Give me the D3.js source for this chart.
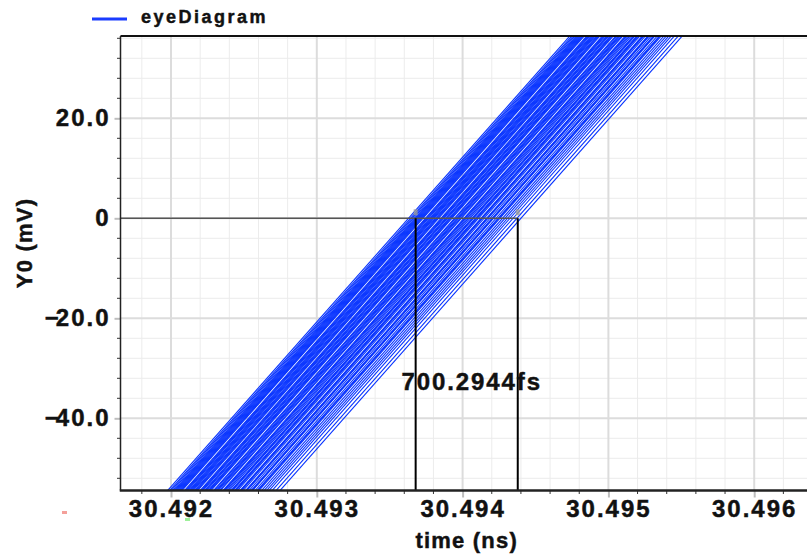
<!DOCTYPE html>
<html>
<head>
<meta charset="utf-8">
<script src="https://cdn.jsdelivr.net/npm/d3@7"></script>
<style>
  html, body { margin: 0; padding: 0; background: #ffffff; }
  svg { display: block; font-family: "Liberation Sans", Arial, Helvetica, sans-serif; }
  text { stroke: #111; stroke-width: 0.45px; paint-order: stroke; }
</style>
</head>
<body>
<svg id="chart" width="807" height="559"></svg>
<script>
// ---- data -------------------------------------------------------------
const seriesName = "eyeDiagram";

// 0 mV crossing of every overlaid rising edge, as offsets (fs) from crossingRef
const crossingRef = 30.4936; // ns
const crossingOffsetsFs = [
   29,  43,  53,  63,  73,
   80,  87,  94, 101, 108, 115, 121, 128, 145, 152, 159, 166,
  176, 183, 190, 197, 204, 214, 221, 228, 235, 252, 259, 265,
  272, 283, 289, 296, 307, 313, 320, 327, 344, 351, 361, 368,
  375, 385, 392, 409, 415, 420, 430, 440, 451,
  464, 470, 475, 488, 494, 499, 509, 526, 531, 536, 547, 564, 569,
  574, 588, 602, 607, 612, 629, 643, 648, 656,
  674, 691, 708, 725, 746, 773, 800
];
// edge slew rate shared by all traces (mV per ns)
const slewRate = 32950;
// voltage span each trace is drawn over (mV)
const traceVoltageSpan = [-60, 42];

const xMajorTicks = [30.492, 30.493, 30.494, 30.495, 30.496];
const xTickLabels = ["30.492", "30.493", "30.494", "30.495", "30.496"];
const yMajorTicks = [-40, -20, 0, 20];
const yTickLabels = ["\u221240.0", "\u221220.0", "0", "20.0"];

// delta-time marker between two 0 mV crossings
const markerStart = 30.493678;     // ns
const markerDeltaFs = 700.2944;    // fs
const markerLabel = "700.2944fs";
const markerLevel = 0;             // mV

const xTitle = "time (ns)";
const yTitle = "Y0 (mV)";

// ---- layout -----------------------------------------------------------
const W = 807, H = 559;
const plot = { left: 120.5, right: 807, top: 36, bottom: 490.5 };

const x = d3.scaleLinear().domain([30.492, 30.496]).range([171, 754.2]);
const y = d3.scaleLinear().domain([-40, 20]).range([418.3, 118.3]);

const xMinor = d3.range(30.4916, 30.49641, 0.0002).map(v => +v.toFixed(4))
  .filter(v => x(v) >= plot.left && x(v) <= plot.right);
const yMinor = d3.range(-52, 40, 4)
  .filter(v => y(v) >= plot.top && y(v) <= plot.bottom);
const isMajorX = v => xMajorTicks.some(m => Math.abs(m - v) < 1e-7);
const isMajorY = v => yMajorTicks.includes(v);

const svg = d3.select("#chart");
svg.append("rect").attr("width", W).attr("height", H).attr("fill", "#ffffff");

// ---- grid -------------------------------------------------------------
const grid = svg.append("g");
grid.selectAll("line.gx").data(xMinor.filter(v => !isMajorX(v))).join("line")
  .attr("x1", d => x(d)).attr("x2", d => x(d))
  .attr("y1", plot.top).attr("y2", plot.bottom)
  .attr("stroke", "#ececec").attr("stroke-width", 1);
grid.selectAll("line.gy").data(yMinor.filter(v => !isMajorY(v))).join("line")
  .attr("y1", d => y(d)).attr("y2", d => y(d))
  .attr("x1", plot.left).attr("x2", plot.right)
  .attr("stroke", "#ececec").attr("stroke-width", 1);
grid.selectAll("line.gX").data(xMajorTicks).join("line")
  .attr("x1", d => x(d)).attr("x2", d => x(d))
  .attr("y1", plot.top).attr("y2", plot.bottom)
  .attr("stroke", "#dcdcdc").attr("stroke-width", 2);
grid.selectAll("line.gY").data(yMajorTicks).join("line")
  .attr("y1", d => y(d)).attr("y2", d => y(d))
  .attr("x1", plot.left).attr("x2", plot.right)
  .attr("stroke", "#dcdcdc").attr("stroke-width", 2);

// ---- traces -----------------------------------------------------------
svg.append("clipPath").attr("id", "plotClip")
  .append("rect")
  .attr("x", plot.left).attr("y", plot.top)
  .attr("width", plot.right - plot.left).attr("height", plot.bottom - plot.top);

const crossingTimes = crossingOffsetsFs.map(fs => crossingRef + fs * 1e-6);
const traces = crossingTimes.map(tc => traceVoltageSpan.map(v => [tc + v / slewRate, v]));
const line = d3.line().x(p => x(p[0])).y(p => y(p[1]));

svg.append("g").attr("clip-path", "url(#plotClip)")
  .selectAll("path").data(traces).join("path")
  .attr("d", line)
  .attr("fill", "none")
  .attr("stroke", "#0632ff")
  .attr("stroke-width", 1.1);

// ---- delta marker -----------------------------------------------------
const markerEnd = markerStart + markerDeltaFs * 1e-6;
const mk = svg.append("g");
mk.append("line")
  .attr("x1", plot.left).attr("x2", x(markerEnd))
  .attr("y1", y(markerLevel)).attr("y2", y(markerLevel))
  .attr("stroke", "#555555").attr("stroke-width", 1.5);
mk.selectAll("line.v").data([markerStart, markerEnd]).join("line")
  .attr("x1", d => x(d)).attr("x2", d => x(d))
  .attr("y1", y(markerLevel)).attr("y2", plot.bottom)
  .attr("stroke", "#000000").attr("stroke-width", 2);
mk.selectAll("rect.h").data([markerStart, markerEnd]).join("rect")
  .attr("x", d => x(d) - 2).attr("y", y(markerLevel) - 9)
  .attr("width", 4).attr("height", 6)
  .attr("fill", "#9a9a9a").attr("opacity", 0.8);
mk.append("text")
  .attr("x", (x(markerStart) + x(markerEnd)) / 2 + 5)
  .attr("y", 390)
  .attr("text-anchor", "middle")
  .attr("font-size", 24).attr("font-weight", "bold")
  .attr("letter-spacing", 1.9)
  .attr("fill", "#111")
  .text(markerLabel);

// ---- axes -------------------------------------------------------------
// minor ticks
svg.append("g").selectAll("line").data(xMinor.filter(v => !isMajorX(v))).join("line")
  .attr("x1", d => x(d)).attr("x2", d => x(d))
  .attr("y1", plot.bottom).attr("y2", plot.bottom + 3.5)
  .attr("stroke", "#333").attr("stroke-width", 1);
svg.append("g").selectAll("line").data(yMinor.filter(v => !isMajorY(v))).join("line")
  .attr("y1", d => y(d)).attr("y2", d => y(d))
  .attr("x1", plot.left - 3.5).attr("x2", plot.left)
  .attr("stroke", "#333").attr("stroke-width", 1);

const labelStyle = sel => sel
  .attr("font-size", 24).attr("font-weight", "bold").attr("letter-spacing", 2)
  .attr("font-family", "Liberation Sans, Arial, sans-serif").attr("fill", "#111");

const xAxis = d3.axisBottom(x).tickValues(xMajorTicks)
  .tickFormat((d, i) => xTickLabels[i]).tickSize(7).tickPadding(2);
const gx = svg.append("g").attr("transform", `translate(0,${plot.bottom})`).call(xAxis);
gx.select(".domain").remove();
gx.selectAll(".tick line").attr("stroke", "#bdbdbd").attr("stroke-width", 2);
gx.selectAll(".tick text").call(labelStyle);

const yAxis = d3.axisLeft(y).tickValues(yMajorTicks)
  .tickFormat(() => "").tickSize(6).tickPadding(4);
const gy = svg.append("g").attr("transform", `translate(${plot.left},0)`).call(yAxis);
gy.select(".domain").remove();
gy.selectAll(".tick line").attr("stroke", "#bdbdbd").attr("stroke-width", 2);
// y labels: the minus sign is set a little tighter than the digits
gy.selectAll(".tick text").call(labelStyle).each(function (d, i) {
  const t = d3.select(this);
  const lab = yTickLabels[i];
  if (lab.startsWith("\u2212")) {
    t.append("tspan").attr("letter-spacing", -3).text("\u2212");
    t.append("tspan").text(lab.slice(1));
  } else {
    t.text(lab);
  }
});

// frame lines
svg.append("line").attr("x1", plot.left).attr("x2", plot.right)
  .attr("y1", plot.top).attr("y2", plot.top)
  .attr("stroke", "#111").attr("stroke-width", 2);
svg.append("line").attr("x1", plot.left).attr("x2", plot.left)
  .attr("y1", plot.top).attr("y2", plot.bottom)
  .attr("stroke", "#222").attr("stroke-width", 1.5);
svg.append("line").attr("x1", plot.left - 0.75).attr("x2", plot.right)
  .attr("y1", plot.bottom).attr("y2", plot.bottom)
  .attr("stroke", "#222").attr("stroke-width", 2.5);

// axis titles
svg.append("text")
  .attr("x", (plot.left + plot.right) / 2 + 3).attr("y", 548)
  .attr("text-anchor", "middle")
  .attr("font-size", 22).attr("font-weight", "bold").attr("letter-spacing", 1.2)
  .attr("fill", "#111")
  .text(xTitle);
svg.append("text")
  .attr("transform", `translate(32,${243}) rotate(-90)`)
  .attr("text-anchor", "middle")
  .attr("font-size", 22).attr("font-weight", "bold").attr("letter-spacing", 1.2)
  .attr("fill", "#111")
  .text(yTitle);

// legend
const lg = svg.append("g");
lg.append("line").attr("x1", 92).attr("x2", 127).attr("y1", 19).attr("y2", 19)
  .attr("stroke", "#1a3cff").attr("stroke-width", 3);
lg.append("text").attr("x", 141).attr("y", 23)
  .attr("font-size", 18).attr("font-weight", "bold").attr("letter-spacing", 2.5)
  .attr("fill", "#111")
  .text(seriesName);

// small stray cursor glyphs below the axis
svg.append("rect").attr("x", 62).attr("y", 511).attr("width", 5).attr("height", 3)
  .attr("fill", "#f4a09a");
svg.append("rect").attr("x", 185).attr("y", 518).attr("width", 5).attr("height", 3)
  .attr("fill", "#9ef09a");
</script>
</body>
</html>
